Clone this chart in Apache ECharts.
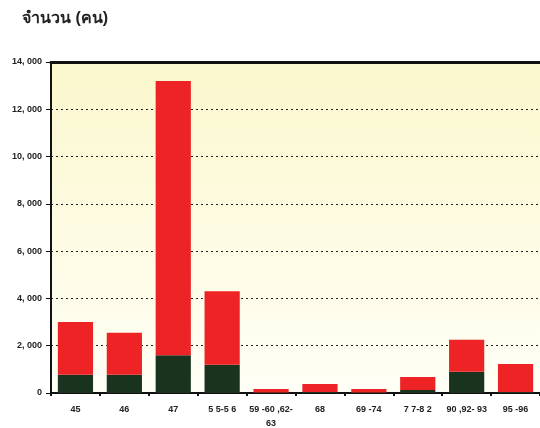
<!DOCTYPE html>
<html>
<head>
<meta charset="utf-8">
<script src="https://cdn.jsdelivr.net/npm/echarts@6/dist/echarts.min.js"></script>
<style>
  html, body { margin: 0; padding: 0; background: #fff; }
  #chart { width: 540px; height: 428px; }
</style>
</head>
<body>
<div id="chart"></div>
<script>
// ข้อมูลจากกราฟ
const categories = ['45', '46', '47', '5 5-5 6', '59 -60 ,62-\n63', '68', '69 -74', '7 7-8 2', '90 ,92- 93', '95 -96']
const darkValues = [770, 770, 1600, 1200, 20, 40, 20, 130, 900, 40]
const redValues = [2230, 1780, 11600, 3100, 150, 340, 150, 550, 1350, 1190]
const yTicks = [0, 2000, 4000, 6000, 8000, 10000, 12000, 14000]

const chart = echarts.init(document.getElementById('chart'))
const option = {
  animation: false,
  title: {
    text: 'จำนวน (คน)',
    left: 17,
    top: 6,
    textStyle: { fontSize: 16, fontWeight: 'bold', color: '#222' }
  },
  grid: {
    left: 51,
    right: 0,
    top: 62,
    bottom: 35,
    outerBoundsMode: 'none',
    containLabel: false,
    show: true,
    borderWidth: 0,
    backgroundColor: new echarts.graphic.LinearGradient(0, 0, 0, 1, [
      { offset: 0, color: '#fbf7cd' },
      { offset: 1, color: '#fffff6' }
    ])
  },
  xAxis: [
    {
      type: 'category',
      data: categories,
      axisLine: { lineStyle: { color: '#111', width: 2 } },
      axisTick: { show: true, length: 3, lineStyle: { color: '#111', width: 2 } },
      axisLabel: { color: '#222', fontSize: 9, fontWeight: 'bold', margin: 10, lineHeight: 14, interval: 0 }
    },
    {
      type: 'category',
      position: 'top',
      data: categories,
      axisLine: { lineStyle: { color: '#111', width: 3 } },
      axisTick: { show: false },
      axisLabel: { show: false }
    }
  ],
  yAxis: {
    type: 'value',
    min: 0,
    max: 14000,
    interval: 2000,
    axisLine: { show: true, lineStyle: { color: '#111', width: 2 } },
    axisTick: { show: true, length: 5, lineStyle: { color: '#111' } },
    axisLabel: {
      color: '#222',
      fontSize: 9,
      fontWeight: 'bold',
      margin: 9,
      formatter: v => yTicks.indexOf(v) === 0 ? '0' : (v / 1000) + ', 000'
    },
    splitLine: { show: true, lineStyle: { color: '#222', type: [2, 3], width: 1 } }
  },
  series: [
    {
      type: 'bar',
      stack: 'total',
      data: darkValues,
      barCategoryGap: '28%',
      itemStyle: { color: '#1a331e' }
    },
    {
      type: 'bar',
      stack: 'total',
      data: redValues,
      barCategoryGap: '28%',
      itemStyle: { color: '#ee2326' }
    }
  ]
}
chart.setOption(option)
</script>
</body>
</html>
